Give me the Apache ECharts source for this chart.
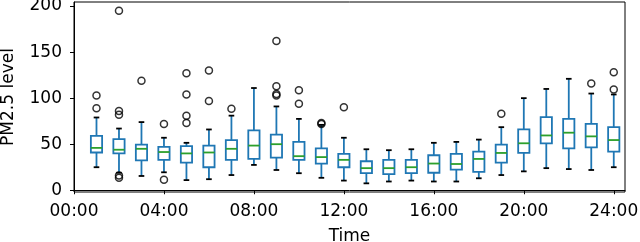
<!DOCTYPE html>
<html>
<head>
<meta charset="utf-8">
<script src="https://cdn.jsdelivr.net/npm/echarts@6/dist/echarts.min.js"></script>
<style>html,body{margin:0;padding:0;background:#fff}#c{width:640px;height:242px}</style>
</head>
<body>
<div id="c"></div>
<script>
const hours = [1,2,3,4,5,6,7,8,9,10,11,12,13,14,15,16,17,18,19,20,21,22,23,24];
const whiskerLow = [25,19,15.5,19.5,11,12,16.5,27.5,22,18.5,13.5,10.5,7.5,9.5,10.5,9.5,9.5,13,16.5,20.5,24,23,22,25];
const q1 = [41,40,32.5,33,30,25,33,34,35.5,33,29,25,18.5,17.5,18.5,19,22.5,20,30,40.5,51,45.5,46.5,42];
const medians = [46,44,45,41.5,40,41,45,48.5,50,37,36,33,24,24,25,29,28.5,34,40.5,51,59.5,62.5,58.5,54.5];
const q3 = [59,55.5,49.5,47,48,48.5,54.5,65,60.5,52.5,45.5,39.5,31.5,33,33,38,39.5,42,49.5,66,79.5,77.5,72,68.5];
const whiskerHigh = [79,67,74,57,51.5,66,81,111,91,77.5,71,57,44.5,43.5,44.5,51.5,52.5,55,68.5,100,110,121,105,104];
const outliers = [[89,103],[195,86,82,16,13.5],[119],[72,11.5],[127,104,81,73],[130,97],[88.5],[],[162,113,104.5,103],[108.5,94],[72,73],[90],[],[],[],[],[],[],[83],[],[],[],[116],[128,109.5]];
const xTicks = [0,4,8,12,16,20,24];
const yTicks = [0,50,100,150,200];

const boxData = hours.map((h,i)=>[h, whiskerLow[i], q1[i], medians[i], q3[i], whiskerHigh[i]]);
const flierData = [];
hours.forEach((h,i)=>outliers[i].forEach(v=>flierData.push([h,v])));

const BLUE='#1f77b4', GREEN='#2ca02c', FONT='DejaVu Sans';
const chart = echarts.init(document.getElementById('c'), null, {renderer:'canvas'});
chart.setOption({
  animation:false,
  grid:{left:74,right:15,top:2,bottom:50,outerBoundsMode:'none',containLabel:false,show:true,borderColor:'#000',borderWidth:1,backgroundColor:'transparent'},
  xAxis:{type:'value',min:0,max:24.5,
    name:'Time',nameLocation:'middle',nameGap:36,nameTextStyle:{fontFamily:FONT,fontSize:17,color:'#000'},
    axisLine:{show:true,lineStyle:{color:'#000',width:1}},
    axisTick:{show:true,length:4,inside:false,customValues:xTicks,lineStyle:{color:'#000'}},
    axisLabel:{customValues:xTicks,margin:11,fontFamily:FONT,fontSize:17,color:'#000',
      formatter:v=>String(v).padStart(2,'0')+':00'},
    splitLine:{show:false}},
  yAxis:{type:'value',min:-1.9,max:204.4,
    name:'PM2.5 level',nameLocation:'middle',nameGap:57,nameRotate:90,nameTextStyle:{fontFamily:FONT,fontSize:17,color:'#000'},
    axisLine:{show:true,lineStyle:{color:'#000',width:1}},
    axisTick:{show:true,length:4,inside:false,customValues:yTicks,lineStyle:{color:'#000'}},
    axisLabel:{customValues:yTicks,margin:12,fontFamily:FONT,fontSize:17,color:'#000'},
    splitLine:{show:false}},
  series:[
    {type:'custom',data:boxData,encode:{x:0,y:[1,2,3,4,5]},
     renderItem:(params,api)=>{
       const x=api.value(0);
       const pLo=api.coord([x,api.value(1)]), pQ1=api.coord([x,api.value(2)]),
             pMed=api.coord([x,api.value(3)]), pQ3=api.coord([x,api.value(4)]),
             pHi=api.coord([x,api.value(5)]);
       const half=api.size([0.5,0])[0]/2, capHalf=api.size([0.25,0])[0]/2;
       const cx=pMed[0];
       const ls=(c)=>({stroke:c,lineWidth:1.8,fill:null});
       return {type:'group',children:[
         {type:'line',shape:{x1:cx,y1:pQ3[1],x2:cx,y2:pHi[1]},style:ls(BLUE)},
         {type:'line',shape:{x1:cx,y1:pQ1[1],x2:cx,y2:pLo[1]},style:ls(BLUE)},
         {type:'line',shape:{x1:cx-capHalf,y1:pHi[1],x2:cx+capHalf,y2:pHi[1]},style:ls('#000')},
         {type:'line',shape:{x1:cx-capHalf,y1:pLo[1],x2:cx+capHalf,y2:pLo[1]},style:ls('#000')},
         {type:'rect',shape:{x:cx-half,y:pQ3[1],width:2*half,height:pQ1[1]-pQ3[1]},style:{stroke:BLUE,lineWidth:1.8,fill:'#fff'}},
         {type:'line',shape:{x1:cx-half,y1:pMed[1],x2:cx+half,y2:pMed[1]},style:ls(GREEN)}
       ]};
     }},
    {type:'scatter',data:flierData,symbol:'circle',symbolSize:7,
     itemStyle:{color:'rgba(0,0,0,0)',borderColor:'#000',borderWidth:1.5}}
  ]
});
</script>
</body>
</html>
